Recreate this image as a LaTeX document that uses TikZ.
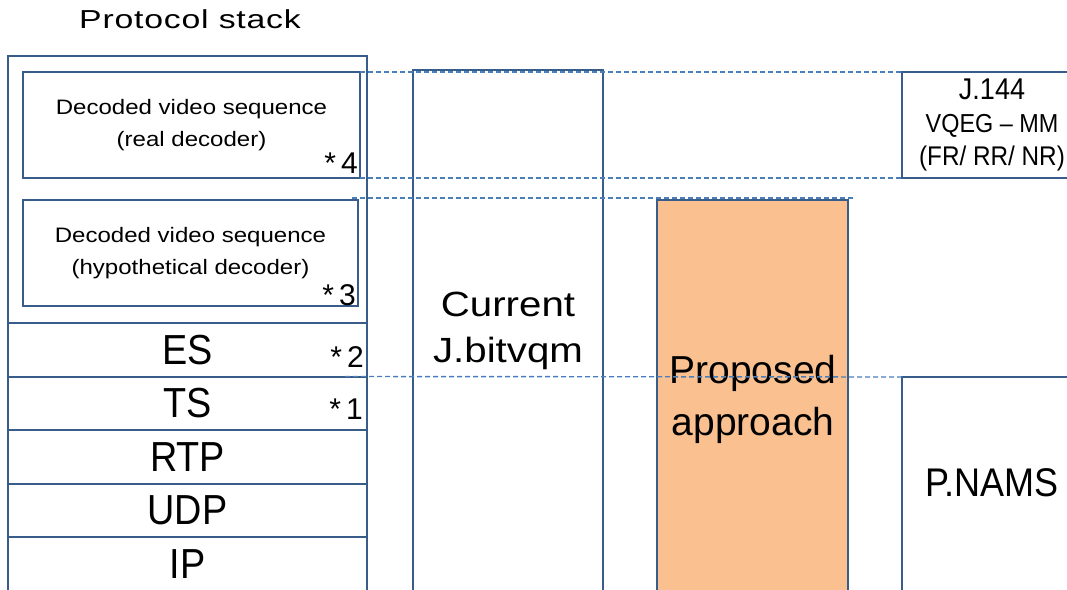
\documentclass[tikz,border=0pt]{standalone}
\usepackage{fontspec}
\setmainfont{Liberation Sans}
\newfontfamily\titlefont[FakeStretch=1.3,LetterSpace=3]{Liberation Sans}
\newfontfamily\loosefont[FakeStretch=1.15]{Liberation Sans}
\newfontfamily\narrowfont[FakeStretch=0.9]{Liberation Sans}
\usepackage{tikz}
\usetikzlibrary{positioning}
\definecolor{edgeblue}{HTML}{385D8A}
\definecolor{guideblue}{HTML}{4A7EBB}
\definecolor{propfill}{HTML}{FAC090}
\newcommand{\fs}[2]{\fontsize{#1}{#2}\selectfont}

\begin{document}
\begin{tikzpicture}[x=1pt,y=-1pt,
  box/.style={draw=edgeblue,line width=2pt,inner sep=0pt,outer sep=0pt,anchor=north west,align=center},
  layer/.style={box,anchor=north,minimum width=359pt,minimum height=53.5pt,font=\narrowfont\fs{42}{42}},
  seq/.style={box,minimum width=337pt,minimum height=106pt,font=\loosefont\fs{20.9}{32}},
  star/.style={inner sep=0pt,anchor=south east,font=\fs{30}{30}},
  guide/.style={draw=guideblue,line width=1.4pt,dash pattern=on 5pt off 3pt}]
\useasboundingbox (0,0) rectangle (1067,589);
\clip (0,0) rectangle (1067,589);
% protocol stack
\node[font=\titlefont\fs{26}{26}] (title) at (190,19) {Protocol stack};
\node[box,minimum width=359pt,minimum height=560pt] (stack) at (8,56) {};
\node[seq] (real) at (23,72) {Decoded video sequence\\(real decoder)};
\node[seq,minimum width=335pt] (hypo) at (23,200) {Decoded video sequence\\(hypothetical decoder)};
\node[layer] (es) at (187.5,323) {ES};
\node[layer,below=0pt of es] (ts) {TS};
\node[layer,below=0pt of ts] (rtp) {RTP};
\node[layer,below=0pt of rtp] (udp) {UDP};
\node[layer,below=0pt of udp] (ip) {IP};
\node[star] (s4) at (358,174) {*\,4};
\node[star] (s3) at (356,306) {*\,3};
\node[star] (s2) at (364,368) {*\,2};
\node[star] (s1) at (363,420) {*\,1};
% model columns
\node[box,minimum width=190pt,minimum height=540pt] (cur) at (413,70) {};
\node[align=center,font=\loosefont\fs{35}{46}] (curtxt) at (508,331) {Current\\J.bitvqm};
\node[box,fill=propfill,minimum width=191pt,minimum height=400pt] (prop) at (657,200) {};
\node[align=center,font=\fs{39}{52}] (proptxt) at (753,399) {Proposed\\approach};
\node[box,minimum width=180pt,minimum height=106pt,font=\narrowfont\fs{27}{33}] (j144) at (902,72)
  {{\fs{30}{33}J.144}\\{\fs{26}{33}VQEG – MM}\\(FR/ RR/ NR)};
\node[box,minimum width=180pt,minimum height=300pt] (pnams) at (902,377) {};
\node[font=\narrowfont\fs{40}{40}] (pnamstxt) at (992,483) {P.NAMS};
% dashed guides
\draw[guide] (real.north east) -- (j144.north west);
\draw[guide] (real.south east) -- (j144.south west);
\draw[guide,shorten <=-6pt,shorten >=-7pt] ([yshift=2pt]hypo.north east) -- ([yshift=2pt]prop.north east);
\draw[guide] ([xshift=-22pt]ts.north east) -- (pnams.north west);
\end{tikzpicture}
\end{document}
